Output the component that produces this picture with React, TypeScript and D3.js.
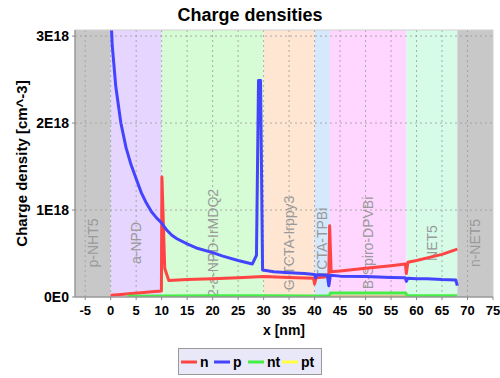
import React from "react";
import * as d3 from "d3";

const W = 500, H = 378;
const M = { left: 75, right: 493, top: 30, bottom: 297 };

const xTicks = [-5, 0, 5, 10, 15, 20, 25, 30, 35, 40, 45, 50, 55, 60, 65, 70, 75];
const yTicks = [0, 1, 2, 3];
const yTickLabels = ["0E0", "1E18", "2E18", "3E18"];

const layerNames = ["p-NHT5", "a-NPD", "2-a-NPD-IrMDQ2", "G-TCTA-Irppy3", "TCTA-TPBi", "B-Spiro-DPVBi", "NET5", "n-NET5"];
const layerStart = [-7, 0, 10, 30, 40, 43, 58, 68];
const layerEnd = [0, 10, 30, 40, 43, 58, 68, 75];
const layerColors = ["#c8c8c8", "#e6d6ff", "#d5fcd5", "#ffe6d2", "#d5e8fc", "#ffd6ff", "#d6fce8", "#c8c8c8"];

// values in units of 1E18 cm^-3
const nX = [0, 2, 4, 6, 8, 9.95, 10.05, 10.6, 11.4, 15, 20, 25, 30, 35, 39.8, 40, 40.3, 42, 42.8, 42.95, 43.25, 45, 50, 55, 57.8, 58, 58.3, 60, 65, 68];
const nY = [0.02, 0.03, 0.04, 0.05, 0.06, 0.07, 1.38, 0.33, 0.19, 0.2, 0.21, 0.22, 0.235, 0.225, 0.215, 0.15, 0.22, 0.23, 0.26, 0.82, 0.29, 0.3, 0.33, 0.36, 0.38, 0.27, 0.4, 0.42, 0.49, 0.55];

const pX = [0, 0.3, 1, 2, 3, 4, 5, 6, 7, 8, 9, 10, 11, 12, 13, 15, 17, 20, 22, 25, 27.8, 28.6, 29.0, 29.4, 29.8, 32, 35, 38, 40, 40.2, 40.5, 42.5, 42.8, 43.1, 45, 50, 55, 57.8, 58, 58.3, 60, 62, 65, 67.7, 68];
const pY = [3.3, 2.9, 2.42, 2.0, 1.72, 1.52, 1.36, 1.2, 1.08, 0.98, 0.91, 0.85, 0.77, 0.71, 0.67, 0.61, 0.56, 0.51, 0.47, 0.42, 0.38, 0.48, 2.49, 2.49, 0.31, 0.29, 0.28, 0.27, 0.26, 0.22, 0.255, 0.25, 0.13, 0.25, 0.24, 0.235, 0.225, 0.22, 0.18, 0.215, 0.21, 0.21, 0.2, 0.195, 0.13];

const ntX = [3.2, 10, 20, 30, 40, 42.9, 43.1, 57.9, 58.1, 68];
const ntY = [0.01, 0.012, 0.015, 0.015, 0.012, 0.012, 0.045, 0.045, 0.015, 0.015];

const ptX = [43.1, 57.9];
const ptY = [0.01, 0.01];

const seriesNames = ["n", "p", "nt", "pt"];
const seriesColors = ["#ff4444", "#4444ff", "#44ee44", "#ffff44"];

export default function App() {
  const x = d3.scaleLinear().domain([-7, 75]).range([M.left, M.right]);
  const y = d3.scaleLinear().domain([0, 3.07]).range([M.bottom, M.top]);
  const line = d3.line<[number, number]>().x(d => x(d[0])).y(d => y(d[1]));
  const zip = (a: number[], b: number[]) => a.map((v, i) => [v, b[i]] as [number, number]);
  const series = [zip(nX, nY), zip(pX, pY), zip(ntX, ntY), zip(ptX, ptY)];
  const lineColors = ["#ff4444", "#4444ff", "#44ee44", "#d4bc66"];
  const font = "'Liberation Sans', Arial, sans-serif";

  return (
    <svg width={W} height={H} style={{ position: "absolute", left: 0, top: 0, background: "#fff" }} fontFamily={font}>
      <defs>
        <clipPath id="plot">
          <rect x={M.left} y={M.top} width={M.right - M.left} height={M.bottom - M.top} />
        </clipPath>
      </defs>
      <text x={250} y={21} textAnchor="middle" fontWeight="bold" fontSize={18}>Charge densities</text>
      <g clipPath="url(#plot)">
        {layerNames.map((nm, i) => (
          <rect key={nm} x={x(layerStart[i])} y={M.top} width={x(layerEnd[i]) - x(layerStart[i])} height={M.bottom - M.top} fill={layerColors[i]} />
        ))}
        {xTicks.filter(t => t > -7 && t < 75).map(t => (
          <line key={"gx" + t} x1={x(t)} x2={x(t)} y1={M.top} y2={M.bottom} stroke="#999" strokeWidth={0.8} strokeDasharray="2,3" />
        ))}
        {yTicks.filter(t => t > 0).map(t => (
          <line key={"gy" + t} x1={M.left} x2={M.right} y1={y(t)} y2={y(t)} stroke="#999" strokeWidth={0.8} strokeDasharray="2,3" />
        ))}
        {layerNames.map((nm, i) => {
          const cx = x((layerStart[i] + layerEnd[i]) / 2);
          return (
            <text key={"l" + nm} transform={`translate(${cx + 5},243) rotate(-90)`} textAnchor="middle" fontSize={14} fill="#9a9a9a">{nm}</text>
          );
        })}
        {series.map((s, i) => (
          <path key={seriesNames[i]} d={line(s) || ""} fill="none" stroke={lineColors[i]} strokeWidth={i === 3 ? 2 : 3} strokeLinejoin="round" />
        ))}
      </g>
      <line x1={M.left} x2={M.right} y1={M.top} y2={M.top} stroke="#cfcfcf" />
      <line x1={M.right} x2={M.right} y1={M.top} y2={M.bottom} stroke="#cfcfcf" />
      <line x1={M.left} x2={M.left} y1={M.top} y2={M.bottom} stroke="#999" strokeWidth={1.5} />
      <line x1={M.left} x2={M.right} y1={M.bottom} y2={M.bottom} stroke="#999" strokeWidth={1.5} />
      {yTicks.map((t, i) => (
        <g key={"yt" + t}>
          <line x1={M.left - 3} x2={M.left} y1={y(t)} y2={y(t)} stroke="#888" />
          <text x={M.left - 6} y={y(t) + 5} textAnchor="end" fontWeight="bold" fontSize={14}>{yTickLabels[i]}</text>
        </g>
      ))}
      {xTicks.map(t => (
        <g key={"xt" + t}>
          <line x1={x(t)} x2={x(t)} y1={M.bottom} y2={M.bottom + 3} stroke="#888" />
          <text x={x(t)} y={M.bottom + 18} textAnchor="middle" fontWeight="bold" fontSize={13}>{t}</text>
        </g>
      ))}
      <text transform={`translate(27,${(M.top + M.bottom) / 2}) rotate(-90)`} textAnchor="middle" fontWeight="bold" fontSize={15}>Charge density [cm^-3]</text>
      <text x={(M.left + M.right) / 2} y={335} textAnchor="middle" fontWeight="bold" fontSize={14}>x [nm]</text>
      <rect x={178.5} y={348.5} width={143} height={26} fill="#e8e8f8" stroke="#999" />
      {seriesNames.map((nm, i) => {
        const lx = [181, 214, 248, 282][i];
        return (
          <g key={"lg" + nm}>
            <line x1={lx} x2={lx + 16} y1={362} y2={362} stroke={seriesColors[i]} strokeWidth={3} />
            <text x={lx + 19} y={367} fontWeight="bold" fontSize={14}>{nm}</text>
          </g>
        );
      })}
    </svg>
  );
}
